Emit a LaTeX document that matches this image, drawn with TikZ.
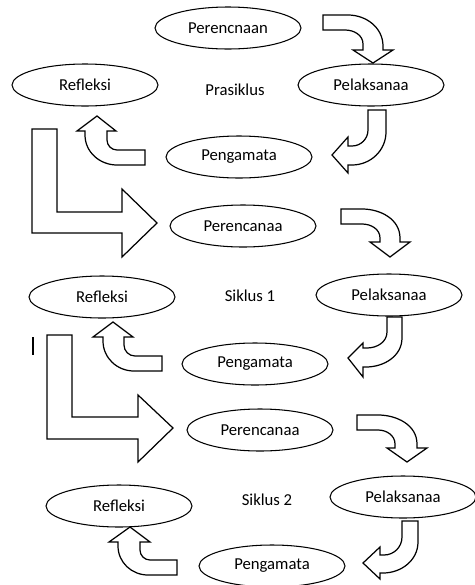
\documentclass[tikz,border=0pt]{standalone}
\usepackage{fontspec}
\setmainfont{Carlito}
\usetikzlibrary{shapes,positioning}

\begin{document}
\begin{tikzpicture}[x=0.02cm,y=0.02cm,line width=0.6pt]
	\tikzstyle{tahap}=[ellipse,draw=black,fill=white,minimum width=2.92cm,minimum height=0.84cm,inner sep=0pt,font=\fontsize{9.5}{11}\selectfont]
	\tikzstyle{siklus}=[font=\fontsize{9.5}{11}\selectfont]
	\tikzstyle{blok}=[draw=black,line width=0.7pt,fill=white]
	
	\useasboundingbox (0,0) rectangle (474,-585);
	
	% prasiklus
	\node[tahap]    (Pr0) at (228,-28)		{Perencnaan};
	\node[tahap]    (Pl0) at (371,-85)		{Pelaksanaa};
	\node[tahap]    (Pg0) at (239,-157)		{Pengamata};
	\node[tahap]    (Rf0) at (85,-85)		{Refleksi};
	\node[siklus]   (S0) at (235,-90)		{Prasiklus};
	
	\draw[blok] (323,-15) -- (348,-15) to[out=0,in=90] (383,-46) -- (383,-50) -- (393,-50) -- (373,-63) -- (353,-50) -- (363,-50) -- (363,-44) to[out=90,in=0] (345,-30) -- (323,-30) -- cycle;
	\draw[blok] (368,-110) -- (386,-110) -- (386,-132) to[out=-90,in=0] (352,-165) -- (348,-165) -- (348,-173) -- (332,-155) -- (348,-137) -- (348,-146) -- (352,-146) to[out=0,in=-90] (368,-130) -- cycle;
	\draw[blok] (145,-150) -- (145,-165) -- (117,-165) to[out=180,in=-90] (85,-135) -- (85,-131) -- (77,-131) -- (97,-116) -- (116,-131) -- (107,-131) -- (107,-140) to[out=-90,in=180] (117,-150) -- cycle;
	\draw[blok] (32,-129) -- (57,-129) -- (57,-212) -- (122,-212) -- (122,-189) -- (157,-223) -- (122,-257) -- (122,-233) -- (32,-233) -- cycle;
	
	% siklus 1
	\node[tahap]    (Pr1) at (243,-226)		{Perencanaa};
	\node[tahap]    (Pl1) at (389,-295)		{Pelaksanaa};
	\node[tahap]    (Pg1) at (255,-364)		{Pengamata};
	\node[tahap]    (Rf1) at (102,-297)		{Refleksi};
	\node[siklus]   (S1) at (250,-296)		{Siklus 1};
	
	\draw[blok] (341,-209) -- (362,-209) to[out=0,in=90] (400,-238) -- (400,-242) -- (410,-242) -- (390,-257) -- (370,-242) -- (380,-242) -- (380,-238) to[out=90,in=0] (362,-224) -- (341,-224) -- cycle;
	\draw[blok] (387,-317) -- (402,-317) -- (402,-338) to[out=-90,in=0] (366,-367) -- (363,-367) -- (363,-377) -- (348,-358) -- (363,-343) -- (363,-348) -- (367,-348) to[out=0,in=-90] (387,-332) -- cycle;
	\draw[blok] (162,-356) -- (162,-371) -- (134,-371) to[out=180,in=-90] (103,-341) -- (103,-337) -- (93,-337) -- (113,-322) -- (133,-337) -- (124,-337) -- (124,-345) to[out=-90,in=180] (135,-356) -- cycle;
	\draw[line width=1.1pt] (33,-337) -- (33,-355);
	\draw[blok] (47,-335) -- (72,-335) -- (72,-417) -- (138,-417) -- (138,-395) -- (173,-428) -- (138,-462) -- (138,-439) -- (47,-439) -- cycle;
	
	% siklus 2
	\node[tahap]    (Pr2) at (260,-430)		{Perencanaa};
	\node[tahap]    (Pl2) at (403,-497)		{Pelaksanaa};
	\node[tahap]    (Pg2) at (272,-566)		{Pengamata};
	\node[tahap]    (Rf2) at (119,-506)		{Refleksi};
	\node[siklus]   (S2) at (267,-500)		{Siklus 2};
	
	\draw[blok] (357,-415) -- (378,-415) to[out=0,in=90] (417,-444) -- (417,-448) -- (427,-448) -- (407,-462) -- (387,-448) -- (395,-448) -- (395,-444) to[out=90,in=0] (378,-430) -- (357,-430) -- cycle;
	\draw[blok] (402,-521) -- (418,-521) -- (418,-542) to[out=-90,in=0] (383,-573) -- (380,-573) -- (380,-579) -- (363,-563) -- (380,-547) -- (380,-555) -- (384,-555) to[out=0,in=-90] (402,-537) -- cycle;
	\draw[blok] (177,-560) -- (177,-575) -- (148,-575) to[out=180,in=-90] (118,-546) -- (118,-542) -- (109,-542) -- (130,-527) -- (150,-542) -- (140,-542) -- (140,-550) to[out=-90,in=180] (150,-560) -- cycle;
\end{tikzpicture}
\end{document}
